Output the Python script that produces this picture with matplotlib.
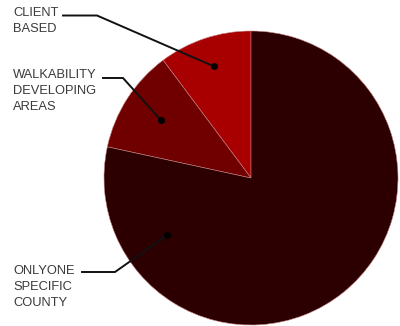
import numpy as np
import matplotlib.pyplot as plt
from matplotlib.lines import Line2D

labels = ["CLIENT\nBASED", "WALKABILITY\nDEVELOPING\nAREAS", "ONLYONE\nSPECIFIC\nCOUNTY"]
shares = [10.2, 11.4, 78.4]
colors = ["#a80000", "#700000", "#2c0000"]

# where the pointer dot sits inside each wedge (fraction of wedge angle, fraction of radius)
dot_frac = [0.5, 0.5, 0.165]
dot_rad = [0.8, 0.73, 0.69]
# label layout in pixels from top-left: text x, text top, line start x, elbow x, line y
label_px = [(13, 7, 63, 97, 15.5), (13, 69, 103, 123, 78), (13, 265, 82, 115, 272)]

W, H = 400, 326
fig = plt.figure(figsize=(W / 100, H / 100), dpi=100)
cx, cy, r = 251, 178, 147
ax = fig.add_axes([(cx - r) / W, (H - cy - r) / H, 2 * r / W, 2 * r / H])

wedges, _ = ax.pie(shares, colors=colors, startangle=90, counterclock=True,
                   wedgeprops=dict(edgecolor="#c88080", linewidth=0.4))
for w in wedges:
    w.set_clip_on(False)
ax.set_xlim(-1, 1)
ax.set_ylim(-1, 1)
ax.set_aspect("equal")
ax.axis("off")

fig.canvas.draw()
for w, lab, f, rr, (tx, ty, lx0, lx1, ly) in zip(wedges, labels, dot_frac, dot_rad, label_px):
    ang = np.deg2rad(w.theta1 + f * (w.theta2 - w.theta1))
    px, py = ax.transData.transform((rr * np.cos(ang), rr * np.sin(ang)))
    fig.text(tx / W, 1 - ty / H, lab, ha="left", va="top", fontsize=9.3,
             family="Liberation Sans", color="#3a3a3a", linespacing=1.45)
    xs = [lx0 / W, lx1 / W, px / W]
    ys = [1 - ly / H, 1 - ly / H, py / H]
    fig.add_artist(Line2D(xs, ys, transform=fig.transFigure, color="#111111", lw=1.4))
    fig.add_artist(Line2D([px / W], [py / H], transform=fig.transFigure, marker="o",
                          markersize=4, color="#000000"))

fig.savefig("out.png", dpi=100)
